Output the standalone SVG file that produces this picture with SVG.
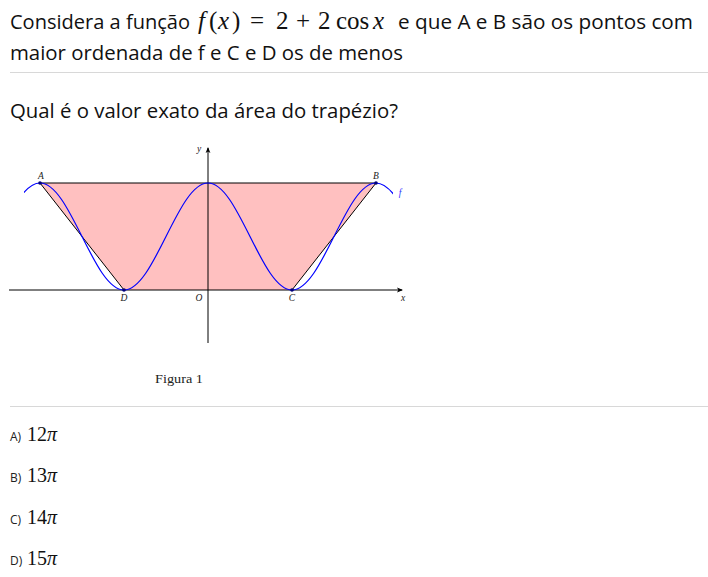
<svg xmlns="http://www.w3.org/2000/svg" width="708" height="577" viewBox="0 0 708 577">
<defs>
<style>
.sans{font-family:"Open Sans","Noto Sans","Liberation Sans",sans-serif;fill:#111}
.h{font-size:20px}
.m{font-family:"Liberation Serif","DejaVu Serif",serif;fill:#111}
.mi{font-style:italic}
.lab{font-family:"Liberation Serif","DejaVu Serif",serif;font-style:italic;font-size:9.5px;fill:#222;text-anchor:middle}
.sep{stroke:#d8d8d8;stroke-width:1}
.ax{stroke:#000;stroke-width:1;fill:none}
.edge{stroke:#000;stroke-width:1;fill:none}
.curve{stroke:#0000ff;stroke-width:1.2;fill:none}
.pt{fill:#00007a}
.opt{font-family:"Open Sans","Noto Sans","Liberation Sans",sans-serif;font-size:12px;fill:#222}
.ans{font-family:"Liberation Serif","DejaVu Serif",serif;font-size:20px;fill:#111}
</style>
<marker id="arr" viewBox="0 0 6 6" refX="5" refY="3" markerWidth="6" markerHeight="6" orient="auto" markerUnits="userSpaceOnUse">
<path d="M0,0.6 L6,3 L0,5.4 L1.4,3 Z" fill="#000"/>
</marker>
<clipPath id="cc"><rect x="24" y="100" width="369" height="250"/></clipPath>
</defs>
<rect width="708" height="577" fill="#fff"/>

<g id="header">
<text class="sans h" x="10" y="29" textLength="180" lengthAdjust="spacingAndGlyphs">Considera a função</text>
<g class="m" font-size="25">
<text x="198" y="29" class="mi">f</text>
<text x="209" y="29">(</text>
<text x="218" y="29" class="mi">x</text>
<text x="232" y="29">)</text>
<text x="250" y="29">=</text>
<text x="276" y="29">2</text>
<text x="296" y="29">+</text>
<text x="318" y="29">2</text>
<text x="336" y="29">cos</text>
<text x="373" y="29" class="mi">x</text>
</g>
<text class="sans h" x="398" y="29" textLength="295" lengthAdjust="spacingAndGlyphs">e que A e B são os pontos com</text>
<text class="sans h" x="10" y="60" textLength="393" lengthAdjust="spacingAndGlyphs">maior ordenada de f e C e D os de menos</text>
<line class="sep" x1="10" y1="72.5" x2="708" y2="72.5"/>
<text class="sans h" x="10" y="118" textLength="388" lengthAdjust="spacingAndGlyphs">Qual é o valor exato da área do trapézio?</text>
</g>

<g id="trapezio">
<polygon points="40,183 376,183 292,290 124,290" fill="#ffc0c0" stroke="none"/>
<polyline class="edge" points="124,290 40,183 376,183 292,290"/>
</g>

<g id="eixos">
<line class="ax" x1="9" y1="290" x2="402" y2="290" marker-end="url(#arr)"/>
<line class="ax" x1="208" y1="343" x2="208" y2="148" marker-end="url(#arr)"/>
</g>

<g id="funcao" clip-path="url(#cc)">
<path class="curve" d="M-2,236.5 c13.70,-27.41 26.87,-53.5 42,-53.5 c15.13,0 28.30,26.09 42,53.5 c13.70,27.41 26.87,53.5 42,53.5 c15.13,0 28.30,-26.09 42,-53.5 c13.70,-27.41 26.87,-53.5 42,-53.5 c15.13,0 28.30,26.09 42,53.5 c13.70,27.41 26.87,53.5 42,53.5 c15.13,0 28.30,-26.09 42,-53.5 c13.70,-27.41 26.87,-53.5 42,-53.5 c15.13,0 28.30,26.09 42,53.5"/>
</g>

<g id="pontos">
<circle class="pt" cx="40" cy="183" r="1.8"/>
<circle class="pt" cx="376" cy="183" r="1.8"/>
<circle class="pt" cx="292" cy="290" r="1.8"/>
<circle class="pt" cx="124" cy="290" r="1.8"/>
</g>

<g id="rotulos">
<text class="lab" x="199" y="152">y</text>
<text class="lab" x="41" y="179">A</text>
<text class="lab" x="376" y="179">B</text>
<text class="lab" x="400" y="196" style="fill:#3333ff">f</text>
<text class="lab" x="124" y="301">D</text>
<text class="lab" x="199" y="301">O</text>
<text class="lab" x="292" y="301">C</text>
<text class="lab" x="403" y="301">x</text>
<text x="155" y="383" font-family="Liberation Serif, DejaVu Serif, serif" font-size="13.5" fill="#222" textLength="48" lengthAdjust="spacingAndGlyphs">Figura 1</text>
</g>

<line class="sep" x1="10" y1="406.5" x2="708" y2="406.5"/>

<g id="opcoes">
<text class="opt" x="10" y="441">A)</text>
<text class="ans" x="27" y="441">12<tspan font-style="italic">π</tspan></text>
<text class="opt" x="10" y="482">B)</text>
<text class="ans" x="27" y="482">13<tspan font-style="italic">π</tspan></text>
<text class="opt" x="10" y="524">C)</text>
<text class="ans" x="27" y="524">14<tspan font-style="italic">π</tspan></text>
<text class="opt" x="10" y="565">D)</text>
<text class="ans" x="27" y="565">15<tspan font-style="italic">π</tspan></text>
</g>
</svg>
